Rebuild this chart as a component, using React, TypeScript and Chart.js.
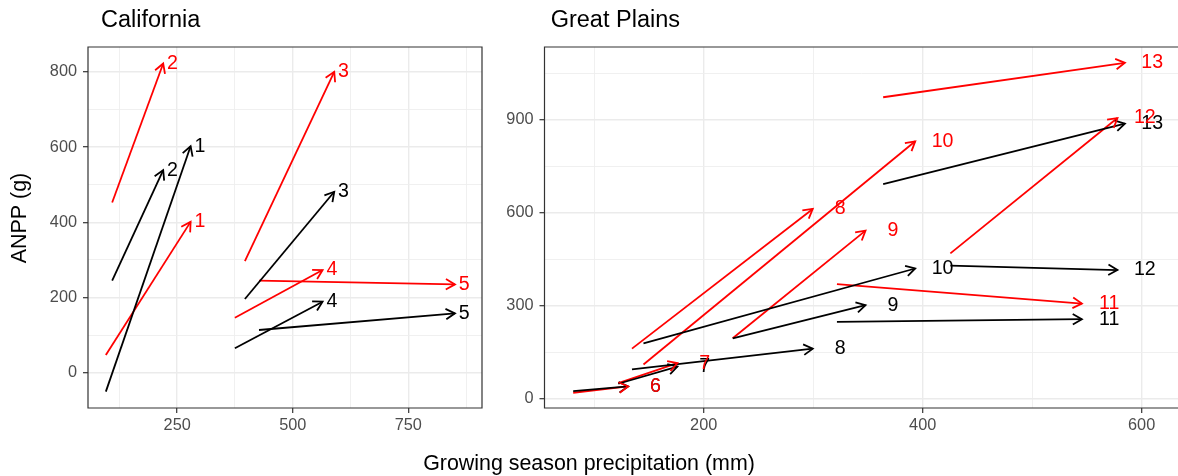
import React, { useEffect, useRef } from 'react';
import { Chart, registerables } from 'chart.js';

Chart.register(...registerables);

// ---------------- DATA ----------------
// California sites
const caSites = ['1', '2', '3', '4', '5'];
const caFromPrecip = [95.6, 109.3, 396.5, 374.8, 427];
const caToPrecip = [279, 219.7, 589.8, 564.6, 851];
const caBlackFromAnpp = [-50.5, 244.5, 195.8, 64.7, 113.4];
const caBlackToAnpp = [602, 538.6, 481, 188.7, 157.7];
const caRedFromAnpp = [47, 452.6, 296.7, 146, 244.5];
const caRedToAnpp = [401, 822, 800, 272.8, 234.7];

// Great Plains sites
const gpSites = ['6', '7', '8', '9', '10', '11', '12', '13'];
const gpFromPrecip = [80.8, 122, 134.5, 226.5, 145, 321.7, 425.3, 363.9];
const gpToPrecip = [131, 176, 299.6, 347.8, 393.2, 545.4, 577.9, 584.7];
const gpBlackFromAnpp = [24.6, 48.5, 94.7, 195, 178.8, 248, 429, 692];
const gpBlackToAnpp = [39.8, 104, 161.7, 301.8, 420, 256.5, 415, 887];
const gpRedFromAnpp = [19.4, 50.4, 161.7, 195, 110.5, 369.6, 468.8, 972];
const gpRedToAnpp = [39.8, 115, 612, 542, 830, 307, 905, 1083];

// Axis ticks
const caXMajor = [250, 500, 750];
const caXMinor = [125, 375, 625, 875];
const caYMajor = [0, 200, 400, 600, 800];
const caYMinor = [100, 300, 500, 700];
const gpXMajor = [200, 400, 600];
const gpXMinor = [100, 300, 500];
const gpYMajor = [0, 300, 600, 900];
const gpYMinor = [150, 450, 750, 1050];

// Text
const caTitle = 'California';
const gpTitle = 'Great Plains';
const yTitle = 'ANPP (g)';
const xTitle = 'Growing season precipitation (mm)';

// ---------------- STYLE ----------------
const FONT = "'Liberation Sans', Arial, Helvetica, sans-serif";
const W = 1178;
const H = 476;
const BLACK = '#000000';
const RED = '#FF0000';

function buildDatasets(sites, fromX, toX, blackFrom, blackTo, redFrom, redTo) {
  const ds: any[] = [];
  const add = (color, fromY, toY) => {
    sites.forEach((s, i) => {
      ds.push({
        data: [
          { x: fromX[i], y: fromY[i] },
          { x: toX[i], y: toY[i] },
        ],
        borderColor: color,
        backgroundColor: color,
        borderWidth: 1.8,
        pointRadius: 0,
        showLine: true,
        siteLabel: s,
        labelX: toX[i],
        labelY: toY[i],
      });
    });
  };
  add(BLACK, blackFrom, blackTo);
  add(RED, redFrom, redTo);
  return ds;
}

function arrowPlugin(nudge: number) {
  return {
    id: 'arrows',
    afterDatasetsDraw(chart) {
      const ctx = chart.ctx;
      const xs = chart.scales.x;
      const ys = chart.scales.y;
      ctx.save();
      chart.data.datasets.forEach((d, i) => {
        const meta = chart.getDatasetMeta(i);
        const p0 = meta.data[0];
        const p1 = meta.data[1];
        const ang = Math.atan2(p1.y - p0.y, p1.x - p0.x);
        const len = 10.5;
        const half = Math.PI / 6;
        ctx.strokeStyle = d.borderColor;
        ctx.lineWidth = 1.8;
        ctx.lineJoin = 'miter';
        ctx.lineCap = 'butt';
        ctx.beginPath();
        ctx.moveTo(p1.x - len * Math.cos(ang - half), p1.y - len * Math.sin(ang - half));
        ctx.lineTo(p1.x, p1.y);
        ctx.lineTo(p1.x - len * Math.cos(ang + half), p1.y - len * Math.sin(ang + half));
        ctx.stroke();
      });
      ctx.font = `19.6px ${FONT}`;
      ctx.textAlign = 'center';
      ctx.textBaseline = 'middle';
      chart.data.datasets.forEach((d) => {
        ctx.fillStyle = d.borderColor;
        ctx.fillText(d.siteLabel, xs.getPixelForValue(d.labelX + nudge), ys.getPixelForValue(d.labelY));
      });
      ctx.restore();
    },
  };
}

function framePlugin(rightSide: boolean) {
  return {
    id: 'frame',
    afterDatasetsDraw(chart) {
      const { left, right, top, bottom } = chart.chartArea;
      const ctx = chart.ctx;
      ctx.save();
      ctx.strokeStyle = '#333333';
      ctx.lineWidth = 1.2;
      ctx.beginPath();
      if (rightSide) {
        ctx.moveTo(right, top);
        ctx.lineTo(left, top);
        ctx.lineTo(left, bottom);
        ctx.lineTo(right, bottom);
        ctx.closePath();
      } else {
        ctx.moveTo(right + 2, top);
        ctx.lineTo(left, top);
        ctx.lineTo(left, bottom);
        ctx.lineTo(right + 2, bottom);
      }
      ctx.stroke();
      ctx.restore();
    },
  };
}

function textPlugin(items: any[]) {
  return {
    id: 'texts',
    afterDraw(chart) {
      const ctx = chart.ctx;
      ctx.save();
      ctx.fillStyle = '#000000';
      items.forEach((t) => {
        ctx.save();
        ctx.font = `${t.size}px ${FONT}`;
        ctx.textAlign = t.align;
        ctx.textBaseline = 'alphabetic';
        ctx.translate(t.x, t.y);
        if (t.rotate) ctx.rotate(-Math.PI / 2);
        ctx.fillText(t.text, 0, 0);
        ctx.restore();
      });
      ctx.restore();
    },
  };
}

function axisOpts(min, max, major, minor, fitSize, horizontal, padding) {
  const all = [...major, ...minor].sort((a, b) => a - b);
  const isMajor = (v) => major.includes(v);
  return {
    type: 'linear',
    min,
    max,
    afterBuildTicks: (scale) => {
      scale.ticks = all.map((v) => ({ value: v }));
    },
    afterFit: (scale) => {
      if (horizontal) scale.height = fitSize;
      else scale.width = fitSize;
    },
    border: { display: false },
    grid: {
      drawOnChartArea: true,
      drawTicks: true,
      tickLength: 5,
      color: (c) => (c.tick && isMajor(c.tick.value) ? '#EBEBEB' : '#EEEEEE'),
      lineWidth: (c) => (c.tick && isMajor(c.tick.value) ? 1.4 : 0.9),
      tickColor: (c) => (c.tick && isMajor(c.tick.value) ? '#333333' : 'rgba(0,0,0,0)'),
      tickWidth: 1.2,
    },
    ticks: {
      autoSkip: false,
      maxRotation: 0,
      minRotation: 0,
      padding,
      color: '#4D4D4D',
      font: { family: FONT, size: 16.3 },
      callback: (v) => (isMajor(v) ? String(v) : ''),
    },
  };
}

function makeConfig(p) {
  return {
    type: 'scatter',
    data: { datasets: p.datasets },
    options: {
      animation: false,
      responsive: false,
      events: [],
      layout: { padding: p.padding },
      plugins: {
        legend: { display: false },
        tooltip: { enabled: false },
        title: { display: false },
      },
      scales: {
        x: axisOpts(p.xMin, p.xMax, p.xMajor, p.xMinor, 30, true, 3),
        y: axisOpts(p.yMin, p.yMax, p.yMajor, p.yMinor, p.yWidth, false, 6),
      },
    },
    plugins: [arrowPlugin(p.nudge), framePlugin(p.rightSide), textPlugin(p.texts)],
  };
}

export default function App() {
  const caRef = useRef<HTMLCanvasElement>(null);
  const gpRef = useRef<HTMLCanvasElement>(null);

  useEffect(() => {
    const ca = new Chart(
      caRef.current as any,
      makeConfig({
        datasets: buildDatasets(caSites, caFromPrecip, caToPrecip, caBlackFromAnpp, caBlackToAnpp, caRedFromAnpp, caRedToAnpp),
        padding: { left: 0, right: W - 482, top: 47, bottom: H - 408 - 30 },
        xMin: 57,
        xMax: 909.5,
        yMin: -94,
        yMax: 866,
        xMajor: caXMajor,
        xMinor: caXMinor,
        yMajor: caYMajor,
        yMinor: caYMinor,
        yWidth: 88,
        nudge: 20,
        rightSide: true,
        texts: [
          { text: caTitle, x: 101, y: 27, size: 23.5, align: 'left' },
          { text: yTitle, x: 26, y: 218, size: 21.4, align: 'center', rotate: true },
          { text: xTitle, x: 589, y: 469.5, size: 21.4, align: 'center' },
        ],
      }) as any
    );
    const gp = new Chart(
      gpRef.current as any,
      makeConfig({
        datasets: buildDatasets(gpSites, gpFromPrecip, gpToPrecip, gpBlackFromAnpp, gpBlackToAnpp, gpRedFromAnpp, gpRedToAnpp),
        padding: { left: 490, right: 0, top: 47, bottom: H - 408 - 30 },
        xMin: 54.6,
        xMax: 633.2,
        yMin: -29.7,
        yMax: 1134,
        xMajor: gpXMajor,
        xMinor: gpXMinor,
        yMajor: gpYMajor,
        yMinor: gpYMinor,
        yWidth: 54.5,
        nudge: 25,
        rightSide: false,
        texts: [{ text: gpTitle, x: 550.7, y: 27, size: 23.5, align: 'left' }],
      }) as any
    );
    return () => {
      ca.destroy();
      gp.destroy();
    };
  }, []);

  return (
    <div style={{ position: 'absolute', left: 0, top: 0, width: W, height: H, background: '#ffffff', overflow: 'hidden' }}>
      <canvas ref={caRef} width={W} height={H} style={{ position: 'absolute', left: 0, top: 0 }} />
      <canvas ref={gpRef} width={W} height={H} style={{ position: 'absolute', left: 0, top: 0 }} />
    </div>
  );
}
